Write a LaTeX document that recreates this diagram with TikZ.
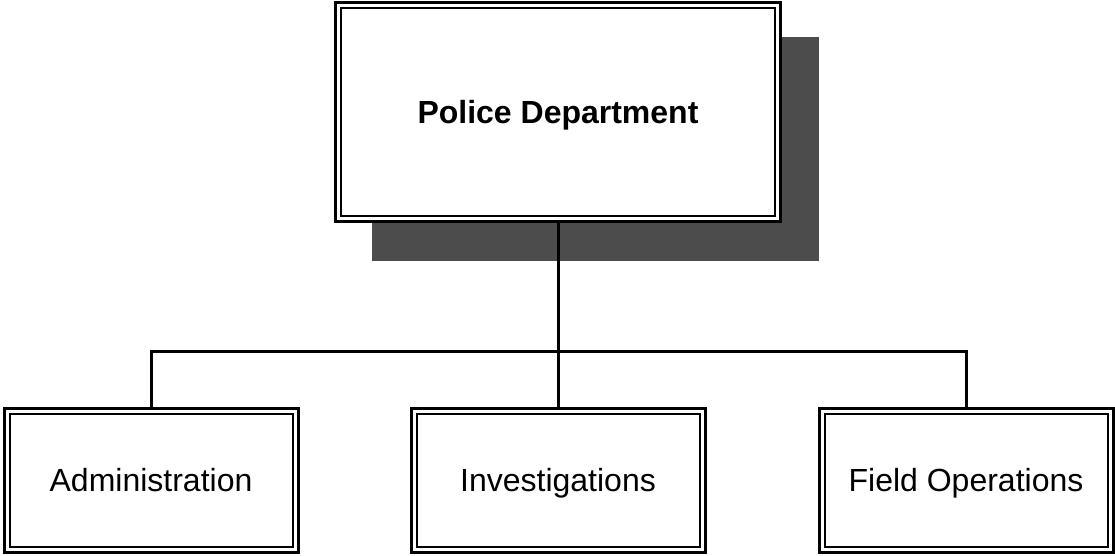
\documentclass[tikz,border=0pt]{standalone}
\usepackage{fontspec}
\setmainfont{Liberation Sans}
\usetikzlibrary{positioning}

\begin{document}
\begin{tikzpicture}[x=0.75pt, y=0.75pt,
    unit box/.style={draw, line width=2.25pt, fill=white, minimum width=294*0.75pt,
      minimum height=144*0.75pt, inner sep=0pt, text height=22pt, text depth=5pt,
      font=\fontsize{24}{28}\selectfont},
    head box/.style={unit box, minimum width=445*0.75pt, minimum height=219*0.75pt,
      font=\fontsize{24}{28}\selectfont\bfseries},
    inner line/.style={line width=1.5pt},
    shade/.style={fill=black!70, draw=none},
    link/.style={line width=2.25pt}]
  \useasboundingbox (0,0) rectangle (1115,556);

  % shadow behind the top box
  \fill[shade] (372,295) rectangle (819,519);

  \node[head box] (pd) at (558,444) {Police Department};
  \draw[inner line] ([shift={(7,-7)}]pd.north west) rectangle ([shift={(-7,7)}]pd.south east);

  \node[unit box] (adm) at (151,75.5) {Administration};
  \node[unit box] (inv) at (558,75.5) {Investigations};
  \node[unit box] (fo) at (966,75.5) {Field Operations};
  \foreach \b in {adm, inv, fo}
    \draw[inner line] ([shift={(7,-7)}]\b.north west) rectangle ([shift={(-7,7)}]\b.south east);

  % connectors
  \coordinate (bus) at (558,204);
  \draw[link] (pd.south) -- (inv.north);
  \draw[link] (adm.north) |- (bus) -| (fo.north);
\end{tikzpicture}
\end{document}
